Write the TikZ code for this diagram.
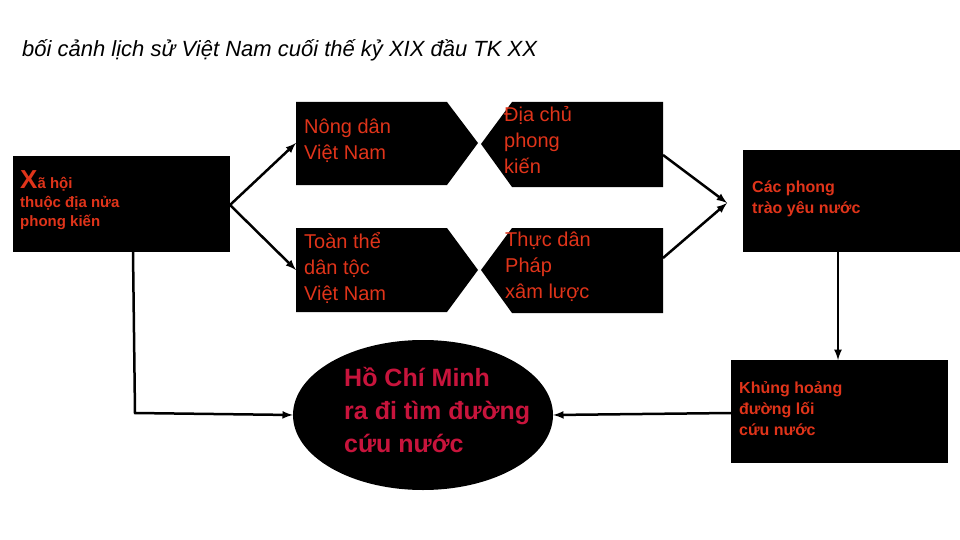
\documentclass[tikz,border=0pt]{standalone}
\usepackage{fontspec}
\setmainfont{Liberation Sans}
\usetikzlibrary{shapes.geometric}
\definecolor{tred}{HTML}{E0341A}
\definecolor{ered}{HTML}{C8143C}
\begin{document}
\begin{tikzpicture}[x=1pt,y=-1pt,
  blk/.style={fill=black,draw=none},
  arr/.style={draw=black,line width=2.5pt,-latex},
  txt/.style={text=tred,anchor=north west,align=left,inner sep=0pt}]
\useasboundingbox (0,0) rectangle (960,540);
\node[anchor=west,inner sep=0pt,font=\fontsize{22}{26}\selectfont\itshape] (title) at (22,50) {bối cảnh lịch sử Việt Nam cuối thế kỷ XIX đầu TK XX};
% left box
\path[blk] (13,156) rectangle (230,252);
\coordinate (L) at (230,205); \coordinate (Lb) at (133,252);
\node[txt,font=\fontsize{15}{19}\selectfont\bfseries] (xh) at (20,170) {{\fontsize{26}{26}\selectfont X}ã hội\\thuộc địa nửa\\phong kiến};
% pentagons
\path[blk] (296,102) -- (447,102) -- (478,143) -- (447,185) -- (296,185) -- cycle;
\path[blk] (296,228) -- (447,228) -- (478,270) -- (447,312) -- (296,312) -- cycle;
\path[blk] (512,102) -- (663,102) -- (663,187) -- (512,187) -- (481,144) -- cycle;
\path[blk] (512,228) -- (663,228) -- (663,313) -- (512,313) -- (481,270) -- cycle;
\coordinate (N) at (296,143); \coordinate (T) at (296,270);
\coordinate (D) at (663,155); \coordinate (P) at (663,258);
\node[txt,font=\fontsize{20}{26}\selectfont] (nd) at (304,119) {Nông dân\\ Việt Nam};
\node[txt,font=\fontsize{20}{26}\selectfont] (tt) at (304,232) {Toàn thể\\dân tộc\\Việt Nam};
\node[txt,font=\fontsize{20}{26}\selectfont] (dc) at (504,106) {Địa chủ\\phong\\kiến};
\node[txt,font=\fontsize{20}{26}\selectfont] (td) at (505,232) {Thực dân\\ Pháp\\xâm lược};
% right boxes
\path[blk] (743,150) rectangle (960,252);
\path[blk] (731,360) rectangle (948,463);
\coordinate (C) at (727,203); \coordinate (Cb) at (838,252);
\coordinate (K) at (838,360); \coordinate (Kl) at (731,413);
\node[txt,font=\fontsize{16}{21}\selectfont\bfseries] (cp) at (752,181) {Các phong\\ trào yêu nước};
\node[txt,font=\fontsize{16}{21}\selectfont\bfseries] (kh) at (739,381) {Khủng hoảng\\đường lối\\cứu nước};
% ellipse
\node[ellipse,fill=black,minimum width=260pt,minimum height=150pt,inner sep=0pt] (hcm) at (423,415) {};
\node[text=ered,anchor=north west,align=left,inner sep=0pt,font=\fontsize{25}{33}\selectfont\bfseries] (ht) at (344,367) {Hồ Chí Minh\\ra đi tìm đường\\cứu nước};
% arrows
\draw[arr] (L) -- (N);
\draw[arr] (L) -- (T);
\draw[arr] (D) -- (C);
\draw[arr] (P) -- (C);
\draw[arr] (Cb) -- (K);
\draw[arr] (Kl) -- (hcm.east);
\draw[arr] (Lb) -- (135,413) -- (hcm.west);
\end{tikzpicture}
\end{document}
